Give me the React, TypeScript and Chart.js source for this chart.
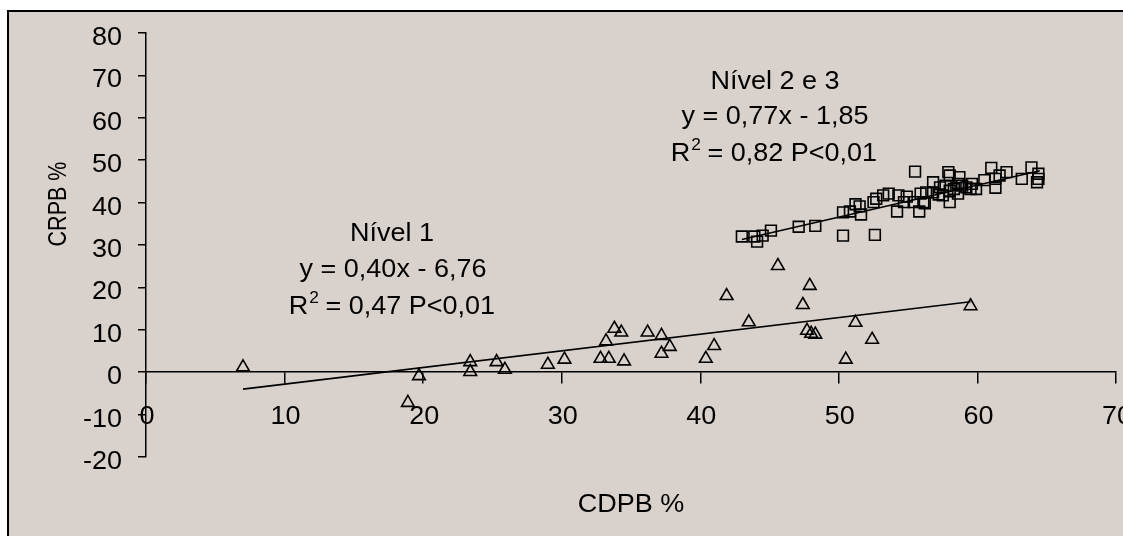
import React, { useEffect, useRef } from 'react';
import { Chart, registerables } from 'chart.js';

Chart.register(...registerables);

// ---- Data ----
const level1X = [7.0, 18.9, 19.7, 23.4, 23.4, 25.3, 25.9, 29.0, 30.2, 32.8, 33.4, 34.5, 33.2, 33.8, 34.3, 36.2, 37.2, 37.8, 37.2, 40.4, 41.0, 41.9, 43.5, 45.6, 47.4, 47.9, 47.7, 48.0, 48.3, 50.5, 51.2, 52.4, 59.5];
const level1Y = [1.2, -7.2, -0.9, 2.4, 0.1, 2.4, 0.6, 1.8, 3.0, 3.2, 3.2, 2.6, 7.3, 10.3, 9.4, 9.4, 8.6, 6.0, 4.4, 3.2, 6.2, 18.0, 11.8, 25.1, 15.9, 20.4, 9.8, 9.1, 8.9, 3.0, 11.7, 7.7, 15.6];

const level23X = [43.0, 43.9, 44.1, 44.5, 45.1, 47.1, 48.3, 50.3, 52.6, 50.3, 50.8, 51.2, 51.5, 51.6, 52.5, 52.7, 53.2, 53.6, 54.3, 54.2, 54.9, 55.5, 55.4, 55.8, 56.1, 55.9, 56.3, 56.8, 56.8, 57.2, 57.7, 57.9, 58.0, 58.0, 58.0, 58.3, 58.6, 58.7, 58.9, 59.2, 59.6, 59.9, 60.5, 61.0, 61.3, 61.3, 61.6, 62.1, 63.2, 63.9, 64.4, 64.4, 64.3, 57.3, 57.5, 54.7, 56.2, 58.6, 59.5];
const level23Y = [32.0, 32.0, 30.8, 32.2, 33.4, 34.3, 34.5, 32.2, 32.4, 37.7, 37.9, 39.6, 39.1, 37.2, 40.1, 40.9, 41.7, 42.1, 41.7, 37.9, 41.4, 47.3, 40.1, 37.9, 40.1, 42.1, 42.4, 44.8, 42.4, 41.9, 44.0, 47.2, 46.4, 40.1, 42.8, 43.2, 42.1, 46.0, 44.0, 43.6, 44.4, 43.2, 45.3, 48.2, 45.6, 43.5, 46.4, 47.2, 45.6, 48.3, 46.8, 45.6, 44.8, 43.6, 41.7, 40.1, 39.8, 44.4, 43.2];

const trend1X = [7.0, 59.5];
const trend1Y = [-4.0, 16.6];
const trend23X = [43.0, 64.5];
const trend23Y = [31.3, 47.5];

const xTicks = [0, 10, 20, 30, 40, 50, 60, 70];
const yTicks = [-20, -10, 0, 10, 20, 30, 40, 50, 60, 70, 80];

const xTitle = 'CDPB %';
const yTitle = 'CRPB %';

const level1Label = ['Nível 1', 'y = 0,40x - 6,76'];
const level1R2 = ['R', '2', ' = 0,47 P<0,01'];
const level23Label = ['Nível 2 e 3', 'y = 0,77x - 1,85'];
const level23R2 = ['R', '2', ' = 0,82 P<0,01'];

// ---- Styling ----
const FONT = '"Liberation Sans", Arial, Helvetica, sans-serif';
const FS = 25;
const SX = 1.08;
const BG = '#d9d1cb';

function textWidth(ctx: CanvasRenderingContext2D, text: string, size: number) {
  ctx.save();
  ctx.font = `${size}px ${FONT}`;
  const w = ctx.measureText(text).width * SX;
  ctx.restore();
  return w;
}

function drawText(ctx: CanvasRenderingContext2D, text: string, x: number, y: number, align: string, size = FS) {
  const w = textWidth(ctx, text, size);
  const left = align === 'center' ? x - w / 2 : align === 'right' ? x - w : x;
  ctx.save();
  ctx.font = `${size}px ${FONT}`;
  ctx.textAlign = 'left';
  ctx.textBaseline = 'alphabetic';
  ctx.fillStyle = '#000';
  ctx.translate(left, y);
  ctx.scale(SX, 1);
  ctx.fillText(text, 0, 0);
  ctx.restore();
  return w;
}

function drawR2(ctx: CanvasRenderingContext2D, parts: string[], cx: number, y: number) {
  const wR = textWidth(ctx, parts[0], FS);
  const w2 = textWidth(ctx, parts[1], 16);
  const wRest = textWidth(ctx, parts[2], FS);
  const start = cx - (wR + w2 + wRest) / 2;
  drawText(ctx, parts[0], start, y, 'left');
  drawText(ctx, parts[1], start + wR + 1, y - 11, 'left', 16);
  drawText(ctx, parts[2], start + wR + w2, y, 'left');
}

const textPlugin = {
  id: 'textPlugin',
  afterDraw(chart: any) {
    const ctx: CanvasRenderingContext2D = chart.ctx;
    const xs = chart.scales.x;
    const ys = chart.scales.y;
    const axisY = ys.getPixelForValue(0);
    // y tick labels
    yTicks.forEach((v) => {
      const py = ys.getPixelForValue(v);
      drawText(ctx, String(v), ys.right - 24, py + 12, 'right');
    });
    // x tick labels
    xTicks.forEach((v) => {
      const px = xs.getPixelForValue(v);
      drawText(ctx, String(v), px + 1, axisY + 52, 'center');
    });
    // x title
    drawText(ctx, xTitle, (chart.chartArea.left + chart.chartArea.right) / 2, 512, 'center');
    // y title
    ctx.save();
    ctx.translate(66, 204);
    ctx.rotate(-Math.PI / 2);
    ctx.scale(0.86, 1);
    ctx.font = `${FS}px ${FONT}`;
    ctx.fillStyle = '#000';
    ctx.textAlign = 'center';
    ctx.textBaseline = 'alphabetic';
    ctx.fillText(yTitle, 0, 0);
    ctx.restore();
    // annotations
    drawText(ctx, level1Label[0], 392, 241, 'center');
    drawText(ctx, level1Label[1], 393, 277, 'center');
    drawR2(ctx, level1R2, 392, 314);
    drawText(ctx, level23Label[0], 775, 89, 'center');
    drawText(ctx, level23Label[1], 775, 124, 'center');
    drawR2(ctx, level23R2, 774, 161);
  },
};

export default function App() {
  const canvasRef = useRef<HTMLCanvasElement | null>(null);

  useEffect(() => {
    const canvas = canvasRef.current;
    if (!canvas) return;
    const toPts = (xa: number[], ya: number[]) => xa.map((x, i) => ({ x, y: ya[i] }));
    const chart = new Chart(canvas, {
      type: 'scatter',
      data: {
        datasets: [
          {
            label: 'Nível 1',
            data: toPts(level1X, level1Y),
            pointStyle: 'triangle',
            pointRadius: 7.3,
            borderColor: '#000',
            backgroundColor: 'rgba(0,0,0,0)',
            pointBorderWidth: 1.6,
            showLine: false,
          },
          {
            label: 'Nível 2 e 3',
            data: toPts(level23X, level23Y),
            pointStyle: 'rect',
            pointRadius: 7.6,
            borderColor: '#000',
            backgroundColor: 'rgba(0,0,0,0)',
            pointBorderWidth: 1.6,
            showLine: false,
          },
          {
            label: 'trend1',
            data: toPts(trend1X, trend1Y),
            showLine: true,
            pointRadius: 0,
            borderColor: '#000',
            borderWidth: 1.6,
          },
          {
            label: 'trend23',
            data: toPts(trend23X, trend23Y),
            showLine: true,
            pointRadius: 0,
            borderColor: '#000',
            borderWidth: 1.6,
          },
        ],
      },
      options: {
        responsive: false,
        animation: false,
        devicePixelRatio: 1,
        layout: { autoPadding: false, padding: { left: 0, right: 7, top: 33, bottom: 79 } },
        plugins: { legend: { display: false }, tooltip: { enabled: false } },
        scales: {
          x: {
            type: 'linear',
            position: { y: 0 },
            min: 0,
            max: 70,
            afterBuildTicks: (s: any) => { s.ticks = xTicks.map((v) => ({ value: v })); },
            afterFit: (s: any) => { s.paddingLeft = 0; s.paddingRight = 0; },
            ticks: { display: false },
            grid: { drawOnChartArea: false, drawTicks: true, tickLength: 11, color: '#000', lineWidth: 1.5 },
            border: { display: true, color: '#000', width: 1.5 },
          },
          y: {
            type: 'linear',
            position: 'left',
            min: -20,
            max: 80,
            afterBuildTicks: (s: any) => { s.ticks = yTicks.map((v) => ({ value: v })); },
            afterFit: (s: any) => { s.width = 146; s.paddingTop = 0; s.paddingBottom = 0; },
            ticks: { display: false },
            grid: { drawOnChartArea: false, drawTicks: true, tickLength: 8, color: '#000', lineWidth: 1.5 },
            border: { display: true, color: '#000', width: 1.5 },
          },
        },
      },
      plugins: [textPlugin],
    } as any);
    return () => chart.destroy();
  }, []);

  return (
    <div style={{ position: 'fixed', left: 0, top: 0, width: '100vw', height: '100vh', overflow: 'hidden', background: '#fff' }}>
      <div
        style={{
          position: 'absolute',
          left: 7,
          top: 10,
          width: 1300,
          height: 700,
          border: '2px solid #000',
          background: BG,
        }}
      />
      <canvas
        ref={canvasRef}
        width={1123}
        height={536}
        style={{ position: 'absolute', left: 0, top: 0, width: 1123, height: 536 }}
      />
    </div>
  );
}
